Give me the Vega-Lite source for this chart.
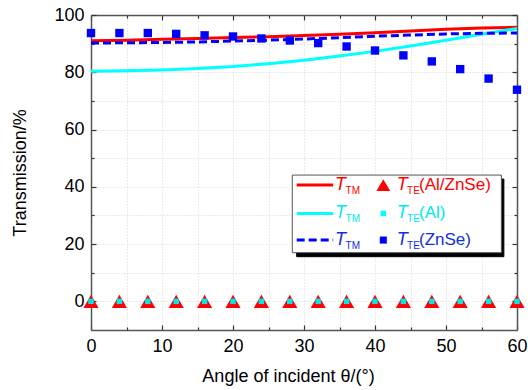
{
  "$schema": "https://vega.github.io/schema/vega-lite/v6.json",
  "width": 426,
  "height": 315,
  "autosize": {"type": "none"},
  "padding": {"left": 91, "top": 15, "right": 11, "bottom": 60},
  "background": "white",
  "config": {"view": {"stroke": null}, "font": "Liberation Sans"},
  "datasets": {
    "curves": [
      {"angle": 0, "T": 91.0, "series": "AlZnSe"}, {"angle": 5, "T": 91.2, "series": "AlZnSe"}, {"angle": 10, "T": 91.5, "series": "AlZnSe"}, {"angle": 15, "T": 91.8, "series": "AlZnSe"}, {"angle": 20, "T": 92.1, "series": "AlZnSe"}, {"angle": 25, "T": 92.4, "series": "AlZnSe"}, {"angle": 30, "T": 92.8, "series": "AlZnSe"}, {"angle": 35, "T": 93.3, "series": "AlZnSe"}, {"angle": 40, "T": 93.8, "series": "AlZnSe"}, {"angle": 45, "T": 94.4, "series": "AlZnSe"}, {"angle": 50, "T": 95.0, "series": "AlZnSe"}, {"angle": 55, "T": 95.5, "series": "AlZnSe"}, {"angle": 60, "T": 95.7, "series": "AlZnSe"},
      {"angle": 0, "T": 80.4, "series": "Al"}, {"angle": 5, "T": 80.5, "series": "Al"}, {"angle": 10, "T": 80.8, "series": "Al"}, {"angle": 15, "T": 81.3, "series": "Al"}, {"angle": 20, "T": 82.0, "series": "Al"}, {"angle": 25, "T": 83.0, "series": "Al"}, {"angle": 30, "T": 84.2, "series": "Al"}, {"angle": 35, "T": 85.7, "series": "Al"}, {"angle": 40, "T": 87.3, "series": "Al"}, {"angle": 45, "T": 89.2, "series": "Al"}, {"angle": 50, "T": 91.2, "series": "Al"}, {"angle": 55, "T": 93.3, "series": "Al"}, {"angle": 60, "T": 95.3, "series": "Al"},
      {"angle": 0, "T": 90.2, "series": "ZnSe"}, {"angle": 5, "T": 90.3, "series": "ZnSe"}, {"angle": 10, "T": 90.4, "series": "ZnSe"}, {"angle": 15, "T": 90.6, "series": "ZnSe"}, {"angle": 20, "T": 90.9, "series": "ZnSe"}, {"angle": 25, "T": 91.2, "series": "ZnSe"}, {"angle": 30, "T": 91.6, "series": "ZnSe"}, {"angle": 35, "T": 92.1, "series": "ZnSe"}, {"angle": 40, "T": 92.6, "series": "ZnSe"}, {"angle": 45, "T": 93.0, "series": "ZnSe"}, {"angle": 50, "T": 93.4, "series": "ZnSe"}, {"angle": 55, "T": 93.6, "series": "ZnSe"}, {"angle": 60, "T": 93.7, "series": "ZnSe"}
    ],
    "points": [
      {"angle": 0, "T": 93.7, "series": "ZnSe"}, {"angle": 4, "T": 93.7, "series": "ZnSe"}, {"angle": 8, "T": 93.7, "series": "ZnSe"}, {"angle": 12, "T": 93.4, "series": "ZnSe"}, {"angle": 16, "T": 92.9, "series": "ZnSe"}, {"angle": 20, "T": 92.5, "series": "ZnSe"}, {"angle": 24, "T": 91.8, "series": "ZnSe"}, {"angle": 28, "T": 91.1, "series": "ZnSe"}, {"angle": 32, "T": 90.2, "series": "ZnSe"}, {"angle": 36, "T": 89.0, "series": "ZnSe"}, {"angle": 40, "T": 87.6, "series": "ZnSe"}, {"angle": 44, "T": 85.9, "series": "ZnSe"}, {"angle": 48, "T": 83.8, "series": "ZnSe"}, {"angle": 52, "T": 81.1, "series": "ZnSe"}, {"angle": 56, "T": 77.8, "series": "ZnSe"}, {"angle": 60, "T": 73.9, "series": "ZnSe"},
      {"angle": 0, "T": 0, "series": "AlZnSe"}, {"angle": 4, "T": 0, "series": "AlZnSe"}, {"angle": 8, "T": 0, "series": "AlZnSe"}, {"angle": 12, "T": 0, "series": "AlZnSe"}, {"angle": 16, "T": 0, "series": "AlZnSe"}, {"angle": 20, "T": 0, "series": "AlZnSe"}, {"angle": 24, "T": 0, "series": "AlZnSe"}, {"angle": 28, "T": 0, "series": "AlZnSe"}, {"angle": 32, "T": 0, "series": "AlZnSe"}, {"angle": 36, "T": 0, "series": "AlZnSe"}, {"angle": 40, "T": 0, "series": "AlZnSe"}, {"angle": 44, "T": 0, "series": "AlZnSe"}, {"angle": 48, "T": 0, "series": "AlZnSe"}, {"angle": 52, "T": 0, "series": "AlZnSe"}, {"angle": 56, "T": 0, "series": "AlZnSe"}, {"angle": 60, "T": 0, "series": "AlZnSe"},
      {"angle": 0, "T": 0, "series": "Al"}, {"angle": 4, "T": 0, "series": "Al"}, {"angle": 8, "T": 0, "series": "Al"}, {"angle": 12, "T": 0, "series": "Al"}, {"angle": 16, "T": 0, "series": "Al"}, {"angle": 20, "T": 0, "series": "Al"}, {"angle": 24, "T": 0, "series": "Al"}, {"angle": 28, "T": 0, "series": "Al"}, {"angle": 32, "T": 0, "series": "Al"}, {"angle": 36, "T": 0, "series": "Al"}, {"angle": 40, "T": 0, "series": "Al"}, {"angle": 44, "T": 0, "series": "Al"}, {"angle": 48, "T": 0, "series": "Al"}, {"angle": 52, "T": 0, "series": "Al"}, {"angle": 56, "T": 0, "series": "Al"}, {"angle": 60, "T": 0, "series": "Al"}
    ],
    "legendBox": [
      {"x1": 28.97, "x2": 58.15, "y1": 42.7, "y2": 15.6, "kind": "shadow"},
      {"x1": 28.35, "x2": 57.8, "y1": 44.1, "y2": 17.0, "kind": "box"}
    ],
    "legendLines": [
      {"x": 28.97, "y": 40.6, "series": "AlZnSe"}, {"x": 34.11, "y": 40.6, "series": "AlZnSe"},
      {"x": 28.97, "y": 30.7, "series": "Al"}, {"x": 34.11, "y": 30.7, "series": "Al"},
      {"x": 28.97, "y": 21.4, "series": "ZnSe"}, {"x": 34.11, "y": 21.4, "series": "ZnSe"}
    ],
    "legendSymbols": [
      {"x": 41.17, "y": 40.6, "series": "AlZnSe"},
      {"x": 41.17, "y": 30.7, "series": "Al"},
      {"x": 41.17, "y": 21.4, "series": "ZnSe"}
    ],
    "legendText": [
      {"x": 34.37, "y": 40.6, "text": "T", "part": "T", "series": "AlZnSe"},
      {"x": 35.85, "y": 40.6, "text": "TM", "part": "sub", "series": "AlZnSe"},
      {"x": 43.06, "y": 40.6, "text": "T", "part": "T", "series": "AlZnSe"},
      {"x": 44.51, "y": 40.6, "text": "TE", "part": "sub", "series": "AlZnSe"},
      {"x": 46.2, "y": 40.6, "text": "(Al/ZnSe)", "part": "rest", "series": "AlZnSe"},
      {"x": 34.37, "y": 30.7, "text": "T", "part": "T", "series": "Al"},
      {"x": 35.85, "y": 30.7, "text": "TM", "part": "sub", "series": "Al"},
      {"x": 43.06, "y": 30.7, "text": "T", "part": "T", "series": "Al"},
      {"x": 44.51, "y": 30.7, "text": "TE", "part": "sub", "series": "Al"},
      {"x": 46.2, "y": 30.7, "text": "(Al)", "part": "rest", "series": "Al"},
      {"x": 34.37, "y": 21.4, "text": "T", "part": "T", "series": "ZnSe"},
      {"x": 35.85, "y": 21.4, "text": "TM", "part": "sub", "series": "ZnSe"},
      {"x": 43.06, "y": 21.4, "text": "T", "part": "T", "series": "ZnSe"},
      {"x": 44.51, "y": 21.4, "text": "TE", "part": "sub", "series": "ZnSe"},
      {"x": 46.2, "y": 21.4, "text": "(ZnSe)", "part": "rest", "series": "ZnSe"}
    ]
  },
  "resolve": {"axis": {"x": "independent", "y": "independent"}},
  "layer": [
    {
      "data": {"name": "curves"},
      "transform": [{"filter": "datum.series === 'AlZnSe'"}],
      "mark": {"type": "line", "color": "#ff0000", "strokeWidth": 3},
      "encoding": {
        "x": {"field": "angle", "type": "quantitative",
          "scale": {"domain": [0, 60], "nice": false, "zero": false},
          "axis": {
            "values": [0, 5, 10, 15, 20, 25, 30, 35, 40, 45, 50, 55, 60],
            "labelExpr": "datum.value % 10 === 0 ? datum.label : ''",
            "grid": true, "gridColor": "#d4d4d4", "gridDash": [1, 2], "gridWidth": 1,
            "domainColor": "#555555", "domainWidth": 1.5,
            "tickColor": "#333333", "tickWidth": 1.2,
            "tickSize": {"condition": {"test": "datum.value % 10 === 0", "value": -5}, "value": -3},
            "labelFont": "Liberation Sans", "labelFontSize": 18, "labelColor": "#000000", "labelPadding": 12, "labelFlush": false,
            "title": "Angle of incident θ/(°)", "titleFont": "Liberation Sans", "titleFontSize": 18, "titleFontWeight": "normal", "titleColor": "#000000", "titlePadding": 12, "titleX": 197
          }},
        "y": {"field": "T", "type": "quantitative",
          "scale": {"domain": [-10, 100], "nice": false, "zero": false},
          "axis": {
            "values": [0, 10, 20, 30, 40, 50, 60, 70, 80, 90, 100],
            "labelExpr": "datum.value % 20 === 0 ? datum.label : ''",
            "grid": true, "gridColor": "#d4d4d4", "gridDash": [1, 2], "gridWidth": 1,
            "domainColor": "#555555", "domainWidth": 1.5,
            "tickColor": "#333333", "tickWidth": 1.2,
            "tickSize": {"condition": {"test": "datum.value % 20 === 0", "value": -5}, "value": -3},
            "labelFont": "Liberation Sans", "labelFontSize": 18, "labelColor": "#000000", "labelPadding": 12,
            "title": "Transmission/%", "titleFont": "Liberation Sans", "titleFontSize": 18, "titleFontWeight": "normal", "titleColor": "#000000", "titlePadding": 24
          }}
      }
    },
    {
      "data": {"name": "curves"},
      "transform": [{"filter": "datum.series === 'Al'"}],
      "mark": {"type": "line", "color": "#00ffff", "strokeWidth": 3},
      "encoding": {
        "x": {"field": "angle", "type": "quantitative",
          "axis": {
            "orient": "top",
            "values": [0, 5, 10, 15, 20, 25, 30, 35, 40, 45, 50, 55, 60],
            "labels": false, "grid": false, "title": null,
            "domainColor": "#555555", "domainWidth": 1.5,
            "tickColor": "#333333", "tickWidth": 1.2,
            "tickSize": {"condition": {"test": "datum.value % 10 === 0", "value": -5}, "value": -3}
          }},
        "y": {"field": "T", "type": "quantitative",
          "axis": {
            "orient": "right",
            "values": [0, 10, 20, 30, 40, 50, 60, 70, 80, 90, 100],
            "labels": false, "grid": false, "title": null,
            "domainColor": "#555555", "domainWidth": 1.5,
            "tickColor": "#333333", "tickWidth": 1.2,
            "tickSize": {"condition": {"test": "datum.value % 20 === 0", "value": -5}, "value": -3}
          }}
      }
    },
    {
      "data": {"name": "curves"},
      "transform": [{"filter": "datum.series === 'ZnSe'"}],
      "mark": {"type": "line", "color": "#0000ff", "strokeWidth": 3, "strokeDash": [8, 4]},
      "encoding": {
        "x": {"field": "angle", "type": "quantitative", "axis": null},
        "y": {"field": "T", "type": "quantitative", "axis": null}
      }
    },
    {
      "data": {"name": "points"},
      "transform": [{"filter": "datum.series === 'ZnSe'"}],
      "mark": {"type": "point", "shape": "square", "filled": true, "color": "#0000ff", "size": 70, "opacity": 1},
      "encoding": {
        "x": {"field": "angle", "type": "quantitative", "axis": null},
        "y": {"field": "T", "type": "quantitative", "axis": null}
      }
    },
    {
      "data": {"name": "points"},
      "transform": [{"filter": "datum.series === 'AlZnSe'"}],
      "mark": {"type": "point", "shape": "triangle-up", "filled": true, "color": "#ff0000", "size": 230, "opacity": 1},
      "encoding": {
        "x": {"field": "angle", "type": "quantitative", "axis": null},
        "y": {"field": "T", "type": "quantitative", "axis": null}
      }
    },
    {
      "data": {"name": "points"},
      "transform": [{"filter": "datum.series === 'Al'"}],
      "mark": {"type": "point", "shape": "square", "filled": true, "color": "#00e8e8", "size": 30, "opacity": 1},
      "encoding": {
        "x": {"field": "angle", "type": "quantitative", "axis": null},
        "y": {"field": "T", "type": "quantitative", "axis": null}
      }
    },
    {
      "data": {"name": "legendBox"},
      "mark": {"type": "rect", "strokeWidth": 1},
      "encoding": {
        "x": {"field": "x1", "type": "quantitative", "axis": null},
        "x2": {"field": "x2"},
        "y": {"field": "y1", "type": "quantitative", "axis": null},
        "y2": {"field": "y2"},
        "fill": {"field": "kind", "type": "nominal", "scale": {"domain": ["shadow", "box"], "range": ["#000000", "#ffffff"]}, "legend": null},
        "stroke": {"field": "kind", "type": "nominal", "scale": {"domain": ["shadow", "box"], "range": ["#000000", "#555555"]}, "legend": null}
      }
    },
    {
      "data": {"name": "legendLines"},
      "transform": [{"filter": "datum.series === 'AlZnSe'"}],
      "mark": {"type": "line", "color": "#ff0000", "strokeWidth": 3},
      "encoding": {
        "x": {"field": "x", "type": "quantitative", "axis": null},
        "y": {"field": "y", "type": "quantitative", "axis": null}
      }
    },
    {
      "data": {"name": "legendLines"},
      "transform": [{"filter": "datum.series === 'Al'"}],
      "mark": {"type": "line", "color": "#00ffff", "strokeWidth": 3},
      "encoding": {
        "x": {"field": "x", "type": "quantitative", "axis": null},
        "y": {"field": "y", "type": "quantitative", "axis": null}
      }
    },
    {
      "data": {"name": "legendLines"},
      "transform": [{"filter": "datum.series === 'ZnSe'"}],
      "mark": {"type": "line", "color": "#0000ff", "strokeWidth": 3, "strokeDash": [8, 4]},
      "encoding": {
        "x": {"field": "x", "type": "quantitative", "axis": null},
        "y": {"field": "y", "type": "quantitative", "axis": null}
      }
    },
    {
      "data": {"name": "legendSymbols"},
      "transform": [{"filter": "datum.series === 'AlZnSe'"}],
      "mark": {"type": "point", "shape": "triangle-up", "filled": true, "color": "#ff0000", "size": 190, "opacity": 1},
      "encoding": {
        "x": {"field": "x", "type": "quantitative", "axis": null},
        "y": {"field": "y", "type": "quantitative", "axis": null}
      }
    },
    {
      "data": {"name": "legendSymbols"},
      "transform": [{"filter": "datum.series === 'Al'"}],
      "mark": {"type": "point", "shape": "square", "filled": true, "color": "#00ffff", "size": 30, "opacity": 1},
      "encoding": {
        "x": {"field": "x", "type": "quantitative", "axis": null},
        "y": {"field": "y", "type": "quantitative", "axis": null}
      }
    },
    {
      "data": {"name": "legendSymbols"},
      "transform": [{"filter": "datum.series === 'ZnSe'"}],
      "mark": {"type": "point", "shape": "square", "filled": true, "color": "#0000ff", "size": 50, "opacity": 1},
      "encoding": {
        "x": {"field": "x", "type": "quantitative", "axis": null},
        "y": {"field": "y", "type": "quantitative", "axis": null}
      }
    },
    {
      "data": {"name": "legendText"},
      "transform": [{"filter": "datum.part === 'T'"}],
      "mark": {"type": "text", "align": "left", "baseline": "middle", "font": "Liberation Sans", "fontSize": 18, "fontStyle": "italic"},
      "encoding": {
        "x": {"field": "x", "type": "quantitative", "axis": null},
        "y": {"field": "y", "type": "quantitative", "axis": null},
        "text": {"field": "text"},
        "color": {"field": "series", "type": "nominal", "scale": {"domain": ["AlZnSe", "Al", "ZnSe"], "range": ["#ff0000", "#00e8f0", "#1030e0"]}, "legend": null}
      }
    },
    {
      "data": {"name": "legendText"},
      "transform": [{"filter": "datum.part === 'sub'"}],
      "mark": {"type": "text", "align": "left", "baseline": "middle", "font": "Liberation Sans", "fontSize": 10, "dy": 6},
      "encoding": {
        "x": {"field": "x", "type": "quantitative", "axis": null},
        "y": {"field": "y", "type": "quantitative", "axis": null},
        "text": {"field": "text"},
        "color": {"field": "series", "type": "nominal", "scale": {"domain": ["AlZnSe", "Al", "ZnSe"], "range": ["#ff0000", "#00e8f0", "#1030e0"]}, "legend": null}
      }
    },
    {
      "data": {"name": "legendText"},
      "transform": [{"filter": "datum.part === 'rest'"}],
      "mark": {"type": "text", "align": "left", "baseline": "middle", "font": "Liberation Sans", "fontSize": 17},
      "encoding": {
        "x": {"field": "x", "type": "quantitative", "axis": null},
        "y": {"field": "y", "type": "quantitative", "axis": null},
        "text": {"field": "text"},
        "color": {"field": "series", "type": "nominal", "scale": {"domain": ["AlZnSe", "Al", "ZnSe"], "range": ["#ff0000", "#00e8f0", "#1030e0"]}, "legend": null}
      }
    }
  ]
}
